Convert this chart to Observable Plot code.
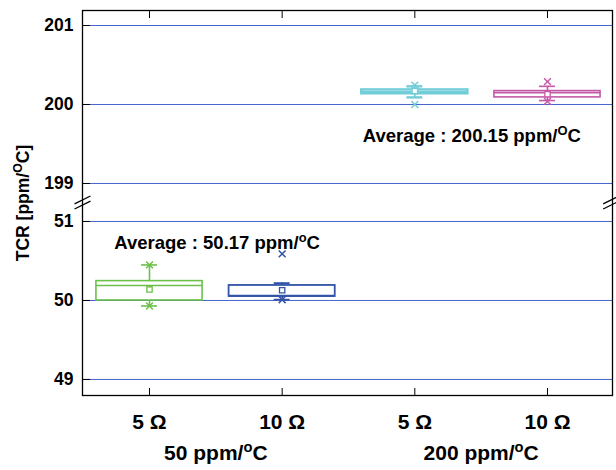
<!DOCTYPE html>
<html><head><meta charset="utf-8">
<script src="https://cdn.jsdelivr.net/npm/d3@7"></script>
<script src="https://cdn.jsdelivr.net/npm/@observablehq/plot@0.6"></script>
<style>body{margin:0;background:#fff;}</style>
</head><body><div id="chart"></div>
<script>
// ---- data ----
const categories = ["5 Ω", "10 Ω", "5 Ω", "10 Ω"];
const groups = ["50 ppm/^{o}C", "200 ppm/^{o}C"];
const colors = ["#6cc04a", "#3453a8", "#72cdd9", "#c45aa8"];
const q1          = [50.00, 50.05, 200.135, 200.09];
const median      = [50.19, 50.06, 200.16, 200.15];
const q3          = [50.245, 50.19, 200.185, 200.17];
const mean        = [50.14, 50.13, 200.17, 200.13];
const whiskerLow  = [49.93, 50.01, 200.09, 200.05];
const whiskerHigh = [50.45, 50.22, 200.23, 200.23];
const minVal      = [49.93, 50.01, 200.00, 200.04];
const maxVal      = [50.45, 50.59, 200.245, 200.29];
const yTicks = [49, 50, 51, 199, 200, 201];
const averageLabels = ["Average : 50.17 ppm/^{o}C", "Average : 200.15 ppm/^{O}C"];

// ---- broken axis transform ----
const GAP = 38 / 79;                // gap between 199 and 51
const SHIFT = 199 - 51 - GAP;       // upper panel offset
const T = v => v > 100 ? v - SHIFT : v;
const INV = v => v > 51 + GAP / 2 ? v + SHIFT : v;
const yBreak = 51 + GAP / 2;

const idx = [0, 1, 2, 3];
const X = i => i + 1;
const hw = 0.4, cw = 0.06;
const xDomain = [0.495, 4.49];
const sw = [1.6, 1.8, 2.4, 1.6];

const rule = (arr, lo, hi) => Plot.ruleY(idx, {y: i => T(arr[i]), x1: i => X(i) - lo, x2: i => X(i) + hi, stroke: i => colors[i], strokeWidth: i => sw[i]});

const plot = Plot.plot({
  width: 616, height: 470,
  marginLeft: 82, marginRight: 4, marginTop: 10, marginBottom: 75,
  x: {domain: xDomain, axis: null},
  y: {domain: [48.797, 53.671], axis: null},
  color: {type: "identity"},
  style: {fontFamily: "'Liberation Sans', Arial, sans-serif", fontWeight: "bold", color: "#000", background: "#fff"},
  marks: [
    Plot.ruleY(yTicks, {y: T, stroke: "#4466cc", strokeWidth: 1}),
    // boxes
    Plot.rect(idx, {x1: i => X(i) - hw, x2: i => X(i) + hw, y1: i => T(q1[i]), y2: i => T(q3[i]), fill: "none", stroke: i => colors[i], strokeWidth: i => sw[i]}),
    rule(median, hw, hw),
    Plot.ruleX(idx, {x: X, y1: i => T(q3[i]), y2: i => T(whiskerHigh[i]), stroke: i => colors[i], strokeWidth: 1.6}),
    Plot.ruleX(idx, {x: X, y1: i => T(q1[i]), y2: i => T(whiskerLow[i]), stroke: i => colors[i], strokeWidth: 1.6}),
    rule(whiskerHigh, cw, cw),
    rule(whiskerLow, cw, cw),
    Plot.dot(idx, {x: X, y: i => T(mean[i]), symbol: "square", r: 3, fill: "white", stroke: i => colors[i], strokeWidth: 1.3}),
    Plot.dot(idx, {x: X, y: i => T(maxVal[i]), symbol: "times", r: 3.2, stroke: i => colors[i], strokeWidth: 1.5}),
    Plot.dot(idx, {x: X, y: i => T(minVal[i]), symbol: "times", r: 3.2, stroke: i => colors[i], strokeWidth: 1.5}),
    // annotations
    Plot.text(averageLabels, {x: (d, i) => [1.51, 3.43][i], y: (d, i) => T([50.73, 199.6][i]), fontSize: 18.5, fontWeight: "bold", fill: "#000"}),
    // frame and axes
    Plot.frame({stroke: "#000", strokeWidth: 1.3}),
    Plot.axisY({ticks: yTicks.map(T), tickSize: -8, tickFormat: () => "", label: null}),
    Plot.axisY({ticks: yTicks.map(T), tickSize: 0, tickPadding: 9, tickFormat: v => String(Math.round(INV(v))), fontSize: 17.5, label: null}),
    Plot.axisX({ticks: [1, 2, 3, 4], anchor: "bottom", tickSize: -7, tickFormat: () => "", label: null}),
    Plot.axisX({ticks: [1, 2, 3, 4], anchor: "top", tickSize: -7, tickFormat: () => "", label: null}),
    Plot.axisX({ticks: [1, 2, 3, 4], anchor: "bottom", tickSize: 0, tickPadding: 19, tickFormat: v => categories[v - 1], fontSize: 21, label: null}),
    Plot.text(groups, {x: (d, i) => 1.5 + 2 * i, frameAnchor: "bottom", dy: 64, fontSize: 21, fill: "#000"}),
    Plot.text(["TCR [ppm/^{O}C]"], {frameAnchor: "left", dx: -59, rotate: -90, textAnchor: "middle", fontSize: 17.5, fill: "#000"}),
    // axis break marks
    Plot.link([-1, 1], {x1: 0.435, x2: 0.555, y1: d => yBreak + d * 0.032 - 0.05, y2: d => yBreak + d * 0.032 + 0.05, stroke: "#000", strokeWidth: 1.3}),
    Plot.link([-1, 1], {x1: 4.42, x2: 4.54, y1: d => yBreak + d * 0.032 - 0.05, y2: d => yBreak + d * 0.032 + 0.05, stroke: "#000", strokeWidth: 1.3})
  ]
});

// superscripts: turn ^{X} into raised tspans
plot.querySelectorAll("text").forEach(t => {
  const targets = t.querySelectorAll("tspan").length ? [...t.querySelectorAll("tspan")] : [t];
  targets.forEach(n => {
    const s = n.textContent;
    if (!s.includes("^{")) return;
    n.textContent = "";
    s.split(/(\^\{[^}]*\})/).forEach(part => {
      if (!part) return;
      const ts = document.createElementNS("http://www.w3.org/2000/svg", "tspan");
      const m = part.match(/^\^\{(.*)\}$/);
      if (m) {
        ts.textContent = m[1];
        ts.setAttribute("font-size", "70%");
        ts.setAttribute("baseline-shift", "super");
      } else {
        ts.textContent = part;
      }
      n.appendChild(ts);
    });
  });
});
document.getElementById("chart").appendChild(plot);
</script>
</body></html>
